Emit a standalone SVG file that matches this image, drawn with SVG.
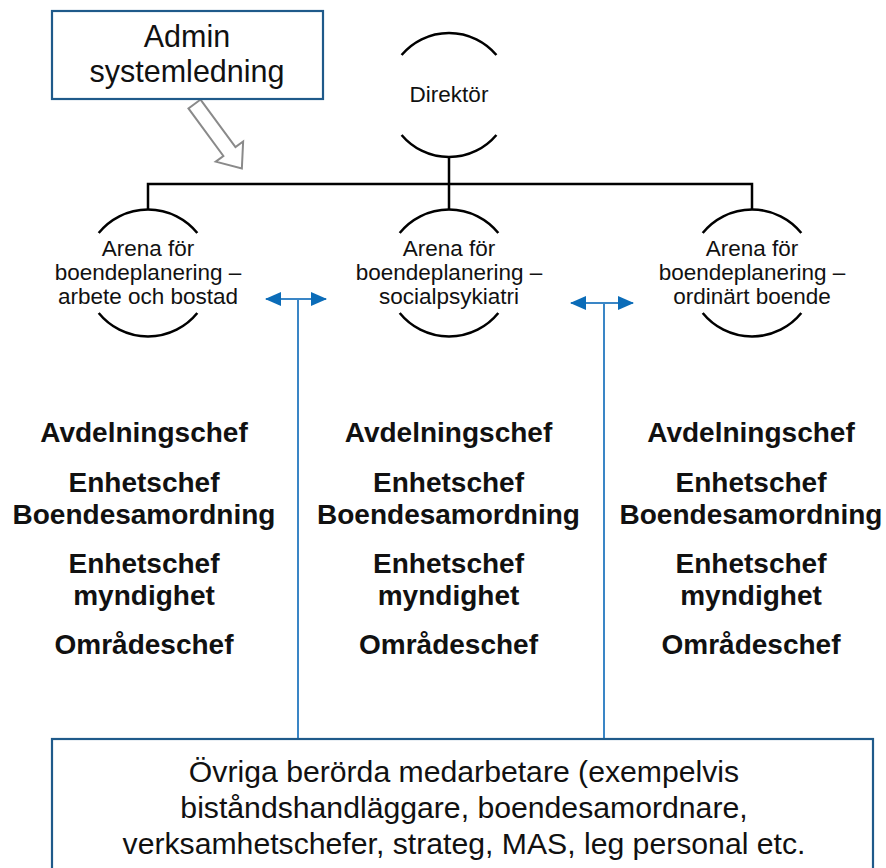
<svg xmlns="http://www.w3.org/2000/svg" width="886" height="868" viewBox="0 0 886 868">
<defs>
<style>
.arc{fill:none;stroke:#000;stroke-width:2.5}
.conn{fill:none;stroke:#000;stroke-width:2.5}
.blue{fill:none;stroke:#3a86c6;stroke-width:2}
.box{fill:#fff;stroke:#1f5a8a;stroke-width:2.2}
.t{font-family:"Liberation Sans",Arial,sans-serif;fill:#111;text-anchor:middle}
.arena{font-size:22.5px}
.role{font-size:28px;font-weight:bold}
.big{font-size:30.5px}
.low{font-size:30.2px}
</style>
<marker id="ah" viewBox="0 0 16 14" refX="15" refY="7" markerWidth="16" markerHeight="14" markerUnits="userSpaceOnUse" orient="auto-start-reverse">
<path d="M0,0 L16,7 L0,14 Z" fill="#0b6cb8"/>
</marker>
</defs>
<rect width="886" height="868" fill="#fff"/>

<g id="connectors">
<path class="conn" d="M449,157 V209 M148,209 V184 H752 V209"/>
<path class="blue" d="M298,299 V739 M604,303 V739"/>
<path class="blue" d="M266,299 H326" marker-start="url(#ah)" marker-end="url(#ah)"/>
<path class="blue" d="M571,303 H633" marker-start="url(#ah)" marker-end="url(#ah)"/>
<polygon transform="translate(194.5,104) rotate(53.7)" points="0,-7.5 59,-7.5 59,-17 80,0 59,17 59,7.5 0,7.5" fill="#fff" stroke="#8a8a8a" stroke-width="2"/>
</g>

<g id="admin">
<rect class="box" x="52" y="11" width="271" height="88"/>
<text class="t big" x="187" y="47">Admin</text>
<text class="t big" x="187" y="82">systemledning</text>
</g>

<g id="direktor">
<path class="arc" d="M401.6,55 A62,62 0 0 1 496.4,55"/>
<path class="arc" d="M401.6,135 A62,62 0 0 0 496.4,135"/>
<text class="t arena" x="449" y="102">Direktör</text>
</g>

<g id="arena1">
<path class="arc" d="M98.7,233 A63.5,63.5 0 0 1 197.3,233"/>
<path class="arc" d="M98.7,313 A63.5,63.5 0 0 0 197.3,313"/>
<text class="t arena" x="148" y="256">Arena för</text>
<text class="t arena" x="148" y="280">boendeplanering –</text>
<text class="t arena" x="148" y="304">arbete och bostad</text>
</g>

<g id="arena2">
<path class="arc" d="M399.7,233 A63.5,63.5 0 0 1 498.3,233"/>
<path class="arc" d="M399.7,313 A63.5,63.5 0 0 0 498.3,313"/>
<text class="t arena" x="449" y="256">Arena för</text>
<text class="t arena" x="449" y="280">boendeplanering –</text>
<text class="t arena" x="449" y="304">socialpsykiatri</text>
</g>

<g id="arena3">
<path class="arc" d="M702.7,233 A63.5,63.5 0 0 1 801.3,233"/>
<path class="arc" d="M702.7,313 A63.5,63.5 0 0 0 801.3,313"/>
<text class="t arena" x="752" y="256">Arena för</text>
<text class="t arena" x="752" y="280">boendeplanering –</text>
<text class="t arena" x="752" y="304">ordinärt boende</text>
</g>

<g id="roles1">
<text class="t role" x="144" y="442">Avdelningschef</text>
<text class="t role" x="144" y="492">Enhetschef</text>
<text class="t role" x="144" y="524">Boendesamordning</text>
<text class="t role" x="144" y="573">Enhetschef</text>
<text class="t role" x="144" y="605">myndighet</text>
<text class="t role" x="144" y="654">Områdeschef</text>
</g>

<g id="roles2">
<text class="t role" x="448.5" y="442">Avdelningschef</text>
<text class="t role" x="448.5" y="492">Enhetschef</text>
<text class="t role" x="448.5" y="524">Boendesamordning</text>
<text class="t role" x="448.5" y="573">Enhetschef</text>
<text class="t role" x="448.5" y="605">myndighet</text>
<text class="t role" x="448.5" y="654">Områdeschef</text>
</g>

<g id="roles3">
<text class="t role" x="751" y="442">Avdelningschef</text>
<text class="t role" x="751" y="492">Enhetschef</text>
<text class="t role" x="751" y="524">Boendesamordning</text>
<text class="t role" x="751" y="573">Enhetschef</text>
<text class="t role" x="751" y="605">myndighet</text>
<text class="t role" x="751" y="654">Områdeschef</text>
</g>

<g id="ovriga">
<rect class="box" x="52" y="739" width="821" height="150"/>
<text class="t low" x="464" y="782">Övriga berörda medarbetare (exempelvis</text>
<text class="t low" x="464" y="818">biståndshandläggare, boendesamordnare,</text>
<text class="t low" x="464" y="854">verksamhetschefer, strateg, MAS, leg personal etc.</text>
</g>
</svg>
